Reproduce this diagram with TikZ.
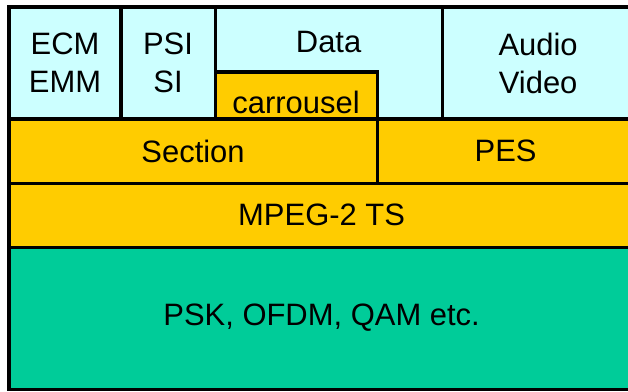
\documentclass[tikz,border=0pt]{standalone}
\usepackage{fontspec}
\setmainfont{Liberation Sans}
\usepackage{tikz}
\usetikzlibrary{positioning}
\definecolor{appcyan}{RGB}{204,255,255}
\definecolor{tsamber}{RGB}{255,204,0}
\definecolor{phygreen}{RGB}{0,204,153}
\tikzset{
  layer/.style={rectangle, draw=black, line width=2.2pt, inner sep=0pt,
    outer sep=0pt, align=center, font=\fontsize{22}{27}\selectfont},
  appbox/.style={layer, fill=appcyan, minimum height=2.8cm},
  tsbox/.style={layer, fill=tsamber, minimum height=1.6cm}
}

\begin{document}
\begin{tikzpicture}[x=0.025cm, y=0.025cm]
  \path[use as bounding box, clip] (0,0) rectangle (628,391);

  % application layer
  \node[appbox, minimum width=2.8cm, anchor=north west] (ecm) at (9,384) {ECM\\EMM};
  \node[appbox, minimum width=2.35cm, right=0pt of ecm] (psi) {PSI\\SI};
  \node[appbox, minimum width=5.675cm, right=0pt of psi,
    text height=1.125cm, text depth=1.675cm] (data) {Data};
  \node[appbox, minimum width=4.8cm, right=0pt of data] (av) {Audio\\Video};
  \node[tsbox, minimum width=4.05cm, minimum height=1.175cm, anchor=south west,
    text height=1.025cm, text depth=0.15cm] (carr) at (data.south west) {carrousel};

  % section / PES
  \node[tsbox, minimum width=9.2cm, anchor=north west] (sect) at (ecm.south west) {Section};
  \node[tsbox, minimum width=6.425cm, right=0pt of sect] (pes) {PES};

  % transport and physical layers
  \node[tsbox, minimum width=15.625cm, anchor=north west] (ts) at (sect.south west) {MPEG-2 TS};
  \node[layer, fill=phygreen, minimum width=15.625cm, minimum height=3.55cm,
    anchor=north west] (phy) at (ts.south west) {PSK, OFDM, QAM etc.};
\end{tikzpicture}
\end{document}
